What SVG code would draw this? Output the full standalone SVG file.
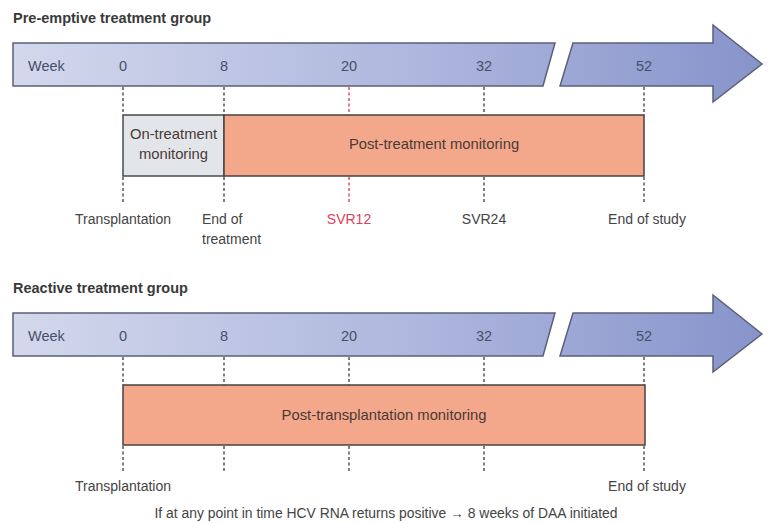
<svg xmlns="http://www.w3.org/2000/svg" width="770" height="523" viewBox="0 0 770 523">
<defs>
<linearGradient id="barGrad" gradientUnits="userSpaceOnUse" x1="13" y1="0" x2="762" y2="0">
<stop offset="0" stop-color="#d3d8ec"/>
<stop offset="0.55" stop-color="#adb6dd"/>
<stop offset="1" stop-color="#8794cb"/>
</linearGradient>
<style>
.bar{fill:url(#barGrad);stroke:#5b6078;stroke-width:1.5;stroke-linejoin:miter}
.bartxt{font-family:"Liberation Sans",Arial,sans-serif;font-size:14.5px;fill:#46506a}
.num{text-anchor:middle}
.title{font-family:"Liberation Sans",Arial,sans-serif;font-size:14.5px;font-weight:bold;fill:#3a3a3a}
.lbl{font-family:"Liberation Sans",Arial,sans-serif;font-size:14px;fill:#444444}
.mid{text-anchor:middle}
.dash{stroke:#555555;stroke-width:1.5;stroke-dasharray:3,2.5;fill:none}
.dashred{stroke:#e0506a;stroke-width:1.5;stroke-dasharray:3,2.5;fill:none}
.salmon{fill:#f3a88b;stroke:#4a4040;stroke-width:1.5}
.grey{fill:#e2e5ea;stroke:#4a4a4a;stroke-width:1.5}
.boxtxt{font-family:"Liberation Sans",Arial,sans-serif;font-size:14.8px;fill:#4a3a36;text-anchor:middle}
</style>
</defs>
<rect width="770" height="523" fill="#ffffff"/>

<!-- Pre-emptive group -->
<text class="title" x="13" y="23">Pre-emptive treatment group</text>
<g id="timeline1">
<polygon class="bar" points="13,43 555,43 543,86 13,86"/>
<polygon class="bar" points="573,43 713,43 713,25 762,64 713,102 713,86 560,86"/>
<text class="bartxt" x="28" y="71">Week</text>
<text class="bartxt num" x="123" y="71">0</text>
<text class="bartxt num" x="224" y="71">8</text>
<text class="bartxt num" x="349" y="71">20</text>
<text class="bartxt num" x="484" y="71">32</text>
<text class="bartxt num" x="644" y="71">52</text>
</g>
<g id="connectors1">
<line class="dash" x1="123" y1="87" x2="123" y2="115"/>
<line class="dash" x1="224" y1="87" x2="224" y2="115"/>
<line class="dashred" x1="349" y1="87" x2="349" y2="115"/>
<line class="dash" x1="484" y1="87" x2="484" y2="115"/>
<line class="dash" x1="644" y1="87" x2="644" y2="115"/>
<line class="dash" x1="123" y1="177" x2="123" y2="204"/>
<line class="dash" x1="224" y1="177" x2="224" y2="204"/>
<line class="dashred" x1="349" y1="177" x2="349" y2="204"/>
<line class="dash" x1="484" y1="177" x2="484" y2="204"/>
<line class="dash" x1="644" y1="177" x2="644" y2="204"/>
</g>
<g id="onTreatment">
<rect class="grey" x="123" y="115" width="101" height="61"/>
<text class="boxtxt" x="173.5" y="139">On-treatment</text>
<text class="boxtxt" x="173.5" y="159">monitoring</text>
</g>
<g id="postTreatment">
<rect class="salmon" x="224" y="115" width="420" height="61"/>
<text class="boxtxt" x="434" y="149">Post-treatment monitoring</text>
</g>
<g id="labels1">
<text class="lbl mid" x="123" y="224">Transplantation</text>
<text class="lbl" x="202" y="224">End of</text>
<text class="lbl" x="202" y="244">treatment</text>
<text class="lbl mid" x="349" y="224" style="fill:#e0405a">SVR12</text>
<text class="lbl mid" x="484" y="224">SVR24</text>
<text class="lbl mid" x="647" y="224">End of study</text>
</g>

<!-- Reactive group -->
<text class="title" x="13" y="293">Reactive treatment group</text>
<g id="timeline2">
<polygon class="bar" points="13,313 555,313 543,356 13,356"/>
<polygon class="bar" points="573,313 713,313 713,295 762,334 713,372 713,356 560,356"/>
<text class="bartxt" x="28" y="341">Week</text>
<text class="bartxt num" x="123" y="341">0</text>
<text class="bartxt num" x="224" y="341">8</text>
<text class="bartxt num" x="349" y="341">20</text>
<text class="bartxt num" x="484" y="341">32</text>
<text class="bartxt num" x="644" y="341">52</text>
</g>
<g id="connectors2">
<line class="dash" x1="123" y1="357" x2="123" y2="385"/>
<line class="dash" x1="224" y1="357" x2="224" y2="385"/>
<line class="dash" x1="349" y1="357" x2="349" y2="385"/>
<line class="dash" x1="484" y1="357" x2="484" y2="385"/>
<line class="dash" x1="644" y1="357" x2="644" y2="385"/>
<line class="dash" x1="123" y1="446" x2="123" y2="473"/>
<line class="dash" x1="224" y1="446" x2="224" y2="473"/>
<line class="dash" x1="349" y1="446" x2="349" y2="473"/>
<line class="dash" x1="484" y1="446" x2="484" y2="473"/>
<line class="dash" x1="644" y1="446" x2="644" y2="473"/>
</g>
<g id="postTransplant">
<rect class="salmon" x="123" y="385" width="522" height="60"/>
<text class="boxtxt" x="384" y="420">Post-transplantation monitoring</text>
</g>
<g id="labels2">
<text class="lbl mid" x="123" y="491">Transplantation</text>
<text class="lbl mid" x="647" y="491">End of study</text>
<text class="lbl mid" x="386" y="518" textLength="463" lengthAdjust="spacingAndGlyphs">If at any point in time HCV RNA returns positive → 8 weeks of DAA initiated</text>
</g>
</svg>
